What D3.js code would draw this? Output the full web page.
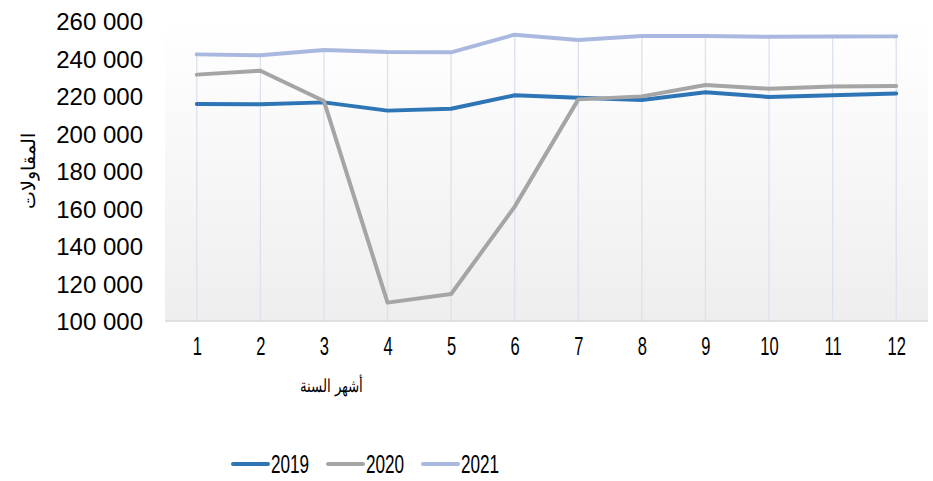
<!DOCTYPE html>
<html>
<head>
<meta charset="utf-8">
<script src="https://cdn.jsdelivr.net/npm/d3@7"></script>
<style>
  body { margin: 0; background: #fff; }
  text { fill: #000; }
</style>
</head>
<body>
<div id="chart"></div>
<script>
// data
var months = [1, 2, 3, 4, 5, 6, 7, 8, 9, 10, 11, 12];
var years = ["2019", "2020", "2021"];
var v2019 = [215700, 215600, 216600, 212200, 213200, 220400, 219100, 217900, 222000, 219500, 220400, 221300];
var v2020 = [231400, 233500, 217300, 109800, 114400, 161000, 218200, 219800, 225900, 223900, 225100, 225300];
var v2021 = [242200, 241700, 244500, 243500, 243300, 252700, 249900, 252000, 252000, 251600, 251700, 251800];
var yTicks = [100000, 120000, 140000, 160000, 180000, 200000, 220000, 240000, 260000];
var colors = ["#2E75B6", "#A5A5A5", "#A9B8DE"];

var series = [v2019, v2020, v2021];

var width = 933, height = 481;
var plotLeft = 165, plotRight = 928, plotTop = 21, plotBottom = 321;
var narrow = "scale(0.66,1)";

var svg = d3.select("#chart").append("svg")
    .attr("width", width)
    .attr("height", height);

// plot area gradient
var grad = svg.append("defs").append("linearGradient")
    .attr("id", "bg")
    .attr("x1", 0).attr("y1", 0).attr("x2", 0).attr("y2", 1);
grad.append("stop").attr("offset", "0%").attr("stop-color", "#ffffff");
grad.append("stop").attr("offset", "100%").attr("stop-color", "#eeeeee");

svg.append("rect")
    .attr("x", plotLeft)
    .attr("y", plotTop)
    .attr("width", plotRight - plotLeft)
    .attr("height", plotBottom - plotTop)
    .attr("fill", "url(#bg)");

var x = d3.scalePoint()
    .domain(months)
    .range([plotLeft, plotRight])
    .padding(0.5);

var y = d3.scaleLinear()
    .domain([100000, 260000])
    .range([plotBottom, plotTop]);

// drop lines from highest point down to axis
svg.append("g").selectAll("line")
    .data(months)
    .enter().append("line")
    .attr("x1", function(d) { return x(d); })
    .attr("x2", function(d) { return x(d); })
    .attr("y1", function(d, i) { return y(d3.max(series, function(s) { return s[i]; })); })
    .attr("y2", plotBottom)
    .attr("stroke", "#DCE1EE")
    .attr("stroke-width", 1.3);

// bottom axis line
svg.append("line")
    .attr("x1", plotLeft).attr("x2", plotRight)
    .attr("y1", plotBottom).attr("y2", plotBottom)
    .attr("stroke", "#D9D9D9")
    .attr("stroke-width", 1.5);

// y axis labels
var yAxis = d3.axisLeft(y)
    .tickValues(yTicks)
    .tickSize(0)
    .tickPadding(0)
    .tickFormat(function(d) { return d3.format(",")(d).replace(",", " "); });

var gy = svg.append("g")
    .attr("transform", "translate(143,0)")
    .call(yAxis);
gy.select(".domain").remove();
gy.selectAll("text")
    .style("font-family", "Arial, 'Liberation Sans', sans-serif")
    .style("font-size", "24px")
    .attr("dy", "0.36em");

// x axis labels
var xAxis = d3.axisBottom(x).tickSize(0).tickPadding(0);
var gx = svg.append("g")
    .attr("transform", "translate(0,346)")
    .call(xAxis);
gx.select(".domain").remove();
gx.selectAll("text")
    .attr("y", 0)
    .attr("dy", "0.36em")
    .attr("transform", narrow)
    .style("font-family", "Arial, 'Liberation Sans', sans-serif")
    .style("font-size", "25px");

// axis titles
svg.append("text")
    .attr("transform", "translate(331,392) scale(0.74,1)")
    .attr("text-anchor", "middle")
    .style("font-family", "Arial, 'Liberation Sans', sans-serif")
    .style("font-size", "18px")
    .text("أشهر السنة");

svg.append("text")
    .attr("transform", "translate(35,171) rotate(-90)")
    .attr("text-anchor", "middle")
    .style("font-family", "Arial, 'Liberation Sans', sans-serif")
    .style("font-size", "18.5px")
    .text("المقاولات");

// lines
var line = d3.line()
    .x(function(d, i) { return x(months[i]); })
    .y(function(d) { return y(d); });

svg.append("g").selectAll("path")
    .data(series)
    .enter().append("path")
    .attr("d", line)
    .attr("fill", "none")
    .attr("stroke", function(d, i) { return colors[i]; })
    .attr("stroke-width", 4)
    .attr("stroke-linecap", "round")
    .attr("stroke-linejoin", "round");

// legend
var legend = svg.append("g").selectAll("g")
    .data(years)
    .enter().append("g")
    .attr("transform", function(d, i) { return "translate(" + (233 + i * 95) + ",464)"; });

legend.append("line")
    .attr("x1", 0).attr("x2", 35)
    .attr("y1", 0).attr("y2", 0)
    .attr("stroke", function(d, i) { return colors[i]; })
    .attr("stroke-width", 4)
    .attr("stroke-linecap", "round");

legend.append("text")
    .attr("transform", "translate(38,0) " + narrow)
    .attr("dy", "0.36em")
    .style("font-family", "Arial, 'Liberation Sans', sans-serif")
    .style("font-size", "26px")
    .text(function(d) { return d; });
</script>
</body>
</html>
